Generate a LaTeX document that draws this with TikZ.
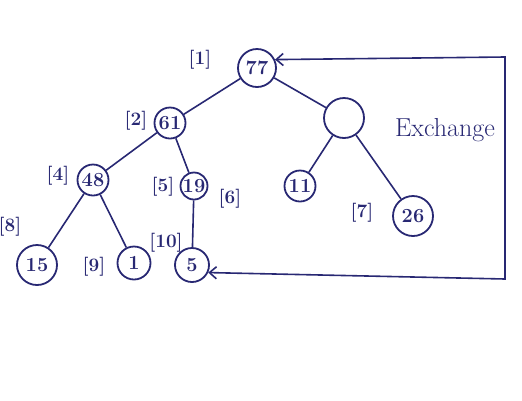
\documentclass[tikz,border=0pt]{standalone}
\usepackage{xcolor}
\usepackage{tikz}
\usetikzlibrary{arrows.meta}
\definecolor{ink}{RGB}{40,40,115}
\tikzset{
	heapnode/.style={circle,draw=ink,line width=1.8pt,inner sep=0pt,text=ink,font=\fontsize{20}{22}\selectfont\bfseries},
	idx/.style={text=ink,font=\fontsize{19}{21}\selectfont\bfseries},
	link/.style={draw=ink,line width=1.6pt}
}

\begin{document}
\begin{tikzpicture}[x=1pt,y=-1pt]
		\useasboundingbox (0,0) rectangle (522,400);
		\node[heapnode,minimum size=38pt] (n1) at (257,68) {77};
		\node[heapnode,minimum size=31pt] (n2) at (170,123) {61};
		\node[heapnode,minimum size=40pt] (n3) at (344,118) {};
		\node[heapnode,minimum size=31pt] (n4) at (93,180) {48};
		\node[heapnode,minimum size=27pt] (n5) at (194,186) {19};
		\node[heapnode,minimum size=31pt] (n6) at (300,186) {11};
		\node[heapnode,minimum size=40pt] (n7) at (413,216) {26};
		\node[heapnode,minimum size=40pt] (n8) at (37,265) {15};
		\node[heapnode,minimum size=33pt] (n9) at (134,263) {1};
		\node[heapnode,minimum size=34pt] (n10) at (192,265) {5};

		\node[idx] (l1) at (200,60) {[1]};
		\node[idx] (l2) at (136,121) {[2]};
		\node[idx] (l4) at (58,176) {[4]};
		\node[idx] (l5) at (163,187) {[5]};
		\node[idx] (l6) at (230,199) {[6]};
		\node[idx] (l7) at (362,213) {[7]};
		\node[idx] (l8) at (10,227) {[8]};
		\node[idx] (l9) at (94,267) {[9]};
		\node[idx] (l10) at (166,243) {[10]};
		\node[text=ink,font=\fontsize{26}{28}\selectfont] (ex) at (445,130) {Exchange};

		\draw[link] (n1) -- (n2);
		\draw[link] (n1) -- (n3);
		\draw[link] (n2) -- (n4);
		\draw[link] (n2) -- (n5);
		\draw[link] (n3) -- (n6);
		\draw[link] (n3) -- (n7);
		\draw[link] (n4) -- (n8);
		\draw[link] (n4) -- (n9);
		\draw[link] (n5) -- (n10);

		\coordinate (e1) at (505,279);
		\coordinate (e2) at (505,57);
		\draw[link,{Straight Barb[length=7pt,width=12pt]}-{Straight Barb[length=7pt,width=12pt]}] (n10.-25) -- (e1) -- (e2) -- (n1.25);
	\end{tikzpicture}
\end{document}
